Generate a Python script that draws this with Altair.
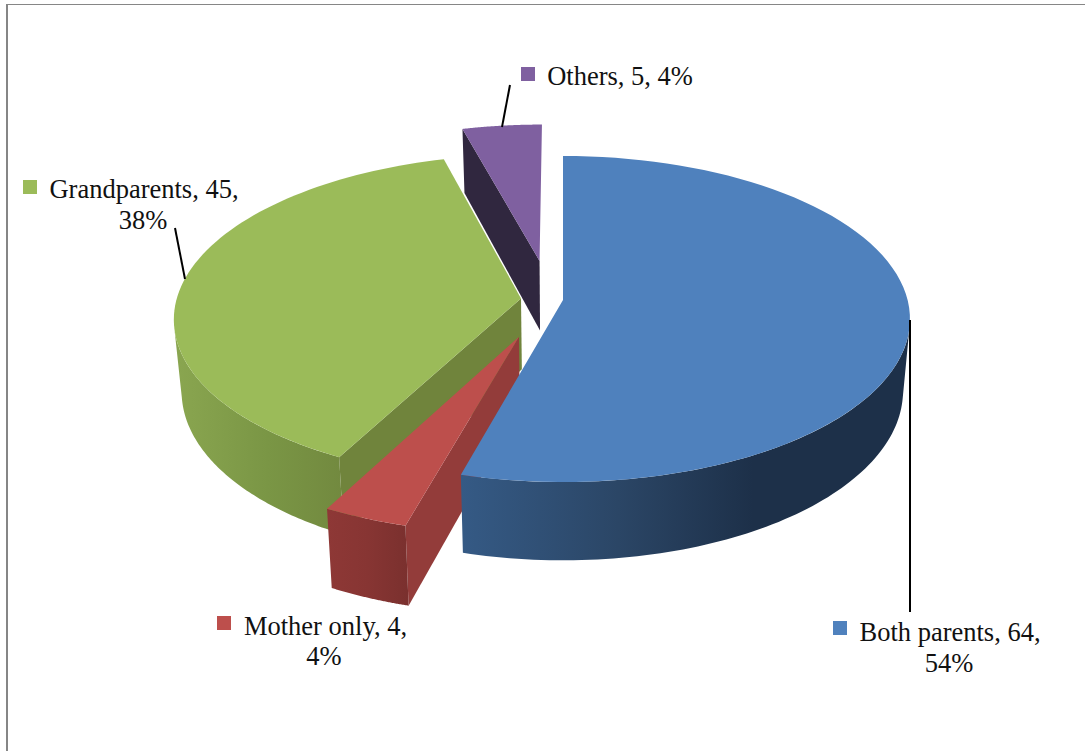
import math
import altair as alt
import pandas as pd

# Household data shown on the exploded pie
categories = ["Both parents", "Mother only", "Grandparents", "Others"]
counts = [64, 4, 45, 5]
percents = ["54%", "4%", "38%", "4%"]

W, H = 1085, 751
CX, CY = 563, 300          # projected pie centre
A, B, K = 344.6, 160.8, 0.1166  # horizontal radius, vertical radius, perspective
DEPTH, DEPTH_SLOPE, BASE_SHRINK = 71, 0.04, 0.98

# Explosion of each slice in the pie plane, and how far its rim reaches
explode = {
    "Both parents": (0.0, 0.0, 1.0),
    "Mother only": (-0.1245, 0.222, 1.02),
    "Grandparents": (-0.122, -0.010, 1.0),
    "Others": (-0.070, -0.25, 1.0),
}
top_colors = {"Both parents": "#4f81bd", "Mother only": "#bd4f4c",
              "Grandparents": "#9bbb59", "Others": "#7f60a0"}

# Rim angles where the side wall turns out of sight
GREEN_TANGENT, BLUE_TANGENT = 260.5, 99

# Sweep of each slice, clockwise from twelve o'clock
total = sum(counts)
spans, acc = {}, 0.0
for name, count in zip(categories, counts):
    spans[name] = (acc, acc + count / total * 360)
    acc += count / total * 360


def project(u, v):
    f = 1 / (1 - K * v)
    return CX + A * u * f, CY + B * v * f


def drop(p):
    """Same point on the underside of the pie."""
    x, y = p
    return CX + (x - CX) * BASE_SHRINK, y + DEPTH + (y - CY) * DEPTH_SLOPE


def rim_point(name, angle):
    eu, ev, reach = explode[name]
    t = math.radians(angle)
    return project(eu + reach * math.sin(t), ev - reach * math.cos(t))


def rim(name, a0, a1, n=80):
    return [rim_point(name, a0 + (a1 - a0) * i / n) for i in range(n + 1)]


def apex(name):
    eu, ev, _ = explode[name]
    return project(eu, ev)


x_scale = alt.Scale(domain=[0, W], range=[0, W])
y_scale = alt.Scale(domain=[0, H], range=[0, H])


def shape(points, fill):
    df = pd.DataFrame([{"px": x, "py": y, "i": i} for i, (x, y) in enumerate(points)])
    return alt.Chart(df).mark_line(fill=fill, interpolate="linear", strokeWidth=0).encode(
        x=alt.X("px:Q", scale=x_scale, axis=None),
        y=alt.Y("py:Q", scale=y_scale, axis=None),
        order=alt.Order("i:Q"),
    )


def shade(*stops):
    return alt.Gradient(
        gradient="linear", x1=0, x2=1, y1=0, y2=0,
        stops=[alt.GradientStop(color=c, offset=o) for o, c in stops],
    )


def top_face(name):
    a0, a1 = spans[name]
    return shape([apex(name)] + rim(name, a0, a1), top_colors[name])


def outer_wall(name, a0, a1, fill):
    edge = rim(name, a0, a1)
    return shape(edge + [drop(p) for p in reversed(edge)], fill)


def cut_wall(name, angle, fill):
    outer = rim_point(name, angle)
    a = apex(name)
    return shape([a, outer, drop(outer), drop(a)], fill)


layers = []

# Back slice first, then front to top so nearer slices overlap it
layers += [cut_wall("Others", spans["Others"][0], "#30273f"), top_face("Others")]

g0, g1 = spans["Grandparents"]
layers += [
    outer_wall("Grandparents", g0, GREEN_TANGENT,
               shade((0, "#8aa650"), (0.55, "#7a9645"), (1, "#72893f"))),
    cut_wall("Grandparents", g0, "#70843c"),
    top_face("Grandparents"),
]

m0, m1 = spans["Mother only"]
layers += [
    cut_wall("Mother only", m0, "#933c3a"),
    outer_wall("Mother only", m0, m1, shade((0, "#8e3836"), (0.5, "#873533"), (1, "#7a302e"))),
    top_face("Mother only"),
]

b0, b1 = spans["Both parents"]
layers += [
    outer_wall("Both parents", BLUE_TANGENT, b1,
               shade((0, "#355a85"), (0.35, "#2b4666"), (0.65, "#1d3049"), (1, "#1d3049"))),
    top_face("Both parents"),
]

# Leader lines
leaders = pd.DataFrame({
    "x": [910, 175, 510], "y": [320, 228, 85],
    "x2": [910, 185, 502], "y2": [612, 279, 127],
})
layers.append(
    alt.Chart(leaders).mark_rule(color="#000000", strokeWidth=2).encode(
        x=alt.X("x:Q", scale=x_scale, axis=None), y=alt.Y("y:Q", scale=y_scale, axis=None),
        x2="x2:Q", y2="y2:Q",
    )
)

# Legend keys sit inside each data label
key_pos = {"Both parents": (840, 628), "Mother only": (224, 623),
           "Grandparents": (30, 187), "Others": (528, 74)}
keys = pd.DataFrame([
    {"x": key_pos[n][0], "y": key_pos[n][1], "c": top_colors[n]} for n in categories
])
layers.append(
    alt.Chart(keys).mark_square(size=196, opacity=1).encode(
        x=alt.X("x:Q", scale=x_scale, axis=None), y=alt.Y("y:Q", scale=y_scale, axis=None),
        fill=alt.Fill("c:N", scale=None), stroke=alt.value(None),
    )
)

# Data labels, one row per text line
lines = {
    "Both parents": [(f"Both parents, {counts[0]},", 950, 641), (percents[0], 949, 672)],
    "Mother only": [(f"Mother only, {counts[1]},", 325.5, 635), (percents[1], 324, 665)],
    "Grandparents": [(f"Grandparents, {counts[2]},", 144, 198), (percents[2], 143, 229)],
    "Others": [(f"Others, {counts[3]}, {percents[3]}", 620, 85)],
}
label_rows = [{"t": t, "x": x, "y": y} for rows in lines.values() for t, x, y in rows]
layers.append(
    alt.Chart(pd.DataFrame(label_rows)).mark_text(
        font="Liberation Serif", fontSize=26.5, color="#111111", align="center", baseline="alphabetic",
    ).encode(
        x=alt.X("x:Q", scale=x_scale, axis=None), y=alt.Y("y:Q", scale=y_scale, axis=None),
        text="t:N",
    )
)

# Frame along the top and left of the chart area
layers.append(
    alt.Chart(pd.DataFrame({"k": [0]})).mark_rule(color="#868686", strokeWidth=1).encode(
        x=alt.value(6), x2=alt.value(W), y=alt.value(4.5))
)
layers.append(
    alt.Chart(pd.DataFrame({"k": [0]})).mark_rule(color="#868686", strokeWidth=2).encode(
        x=alt.value(7), y=alt.value(4), y2=alt.value(H))
)

chart = alt.layer(*layers).properties(
    width=W, height=H, padding=0, autosize="none", background="#ffffff",
).configure_view(stroke=None)

chart.save("out.html", embed_options={"renderer": "svg", "actions": False})
